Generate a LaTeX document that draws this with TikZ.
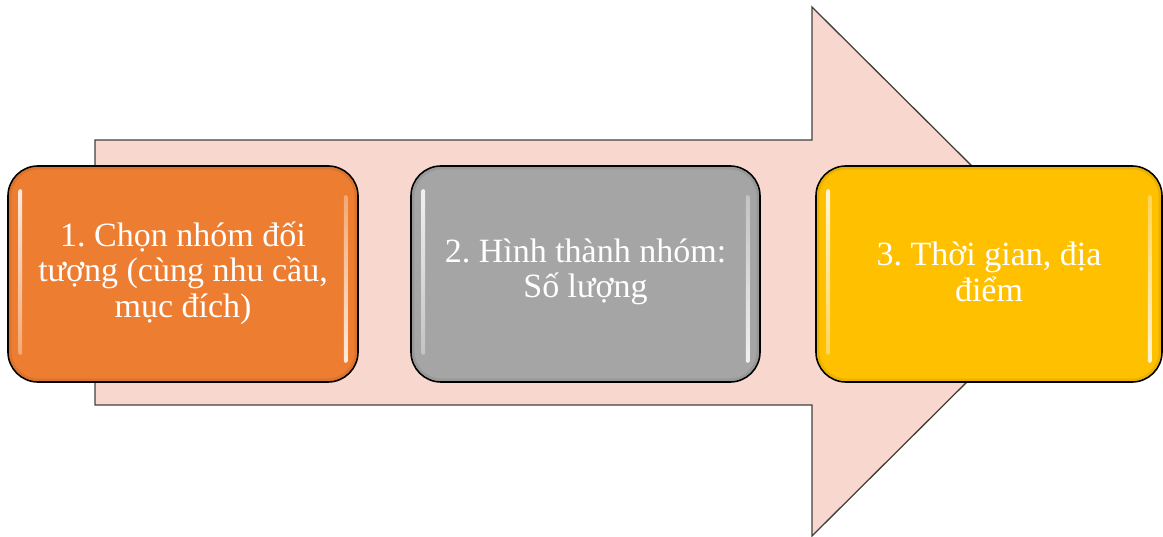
\documentclass[tikz,border=0pt]{standalone}
\usepackage{fontspec}
\setmainfont{Liberation Serif}
\usetikzlibrary{calc}
\frenchspacing
\definecolor{arrowfill}{HTML}{F8D8CE}
\definecolor{arrowline}{HTML}{404040}
\definecolor{cOrange}{HTML}{ED7D31}
\definecolor{cGray}{HTML}{A5A5A5}
\definecolor{cGold}{HTML}{FFC000}
\tikzset{
  gelbox/.style={draw=black, line width=1.6pt, rounded corners=30pt,
    minimum width=#1, minimum height=216pt, inner sep=0pt},
  steptext/.style={text=white, align=center,
    font=\fontsize{34}{35.5}\selectfont},
  bigarrow/.style={fill=arrowfill, draw=arrowline, line width=1.3pt, line join=miter},
}
% glossy highlights along the inner left and right edges of a box
\newcommand\gelshine[2]{%
  \draw[#2!75!black, line width=2.5pt, opacity=0.3, rounded corners=28pt]
    ($(#1.north west)+(3,3)$) rectangle ($(#1.south east)+(-3,-3)$);
  \shade[top color=white, bottom color=#2!60!white, rounded corners=2pt, opacity=0.85]
    ($(#1.north west)+(11,24)$) rectangle ($(#1.south west)+(15,-28)$);
  \shade[top color=#2!60!white, bottom color=white, rounded corners=2pt, opacity=0.85]
    ($(#1.north east)+(-15,30)$) rectangle ($(#1.south east)+(-11,-20)$);
}
\begin{document}
\begin{tikzpicture}[x=1pt, y=-1pt]
  \useasboundingbox (0,0) rectangle (1163,537);

  % the large background arrow
  \draw[bigarrow] (95,140) -- (812,140) -- (812,7) -- (1078,271.5)
    -- (812,536) -- (812,405) -- (95,405) -- cycle;

  % the three steps
  \node[gelbox=350pt, fill=cOrange] (box1) at (183,274) {};
  \gelshine{box1}{cOrange}
  \node[gelbox=349pt, fill=cGray] (box2) at (585.5,274) {};
  \gelshine{box2}{cGray}
  \node[gelbox=346pt, fill=cGold] (box3) at (989,274) {};
  \gelshine{box3}{cGold}

  \node[steptext] (t1) at ($(box1.center)+(0,-1)$)
    {1. Chọn nhóm đối\\tượng (cùng nhu cầu,\\mục đích)};
  \node[steptext] (t2) at ($(box2.center)+(0,-2)$)
    {2. Hình thành nhóm:\\Số lượng};
  \node[steptext] (t3) at ($(box3.center)+(0,-2)$)
    {3. Thời gian, địa\\điểm};
\end{tikzpicture}
\end{document}
